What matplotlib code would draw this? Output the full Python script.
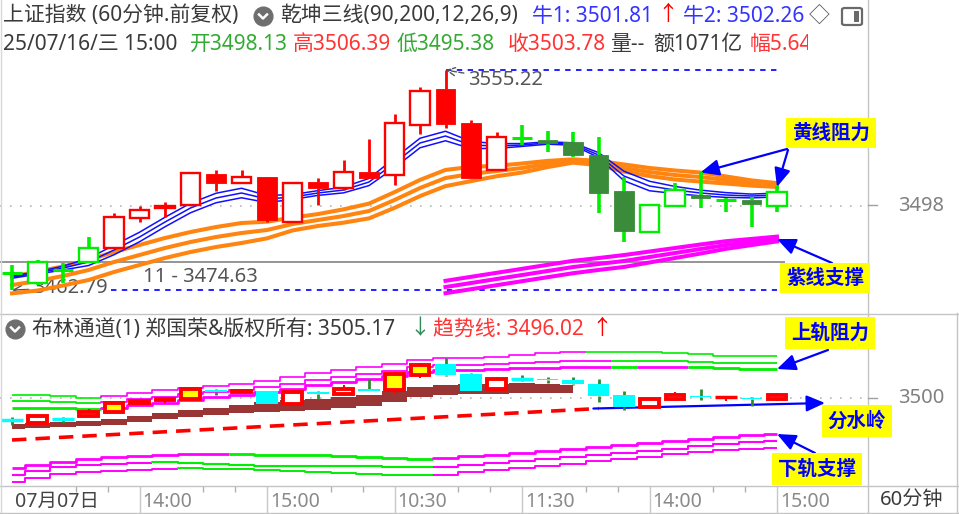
import numpy as np
import matplotlib
matplotlib.use("Agg")
import matplotlib.pyplot as plt
import matplotlib.transforms as mtransforms
from matplotlib.patches import Rectangle, FancyBboxPatch
from matplotlib.lines import Line2D
from matplotlib.transforms import Bbox

plt.rcParams['font.family'] = ['Noto Sans', 'Noto Sans CJK SC', 'DejaVu Sans']

W, H, DPI = 959, 514, 100

# ---------------- data (60-minute bars) ----------------
opens = [3470.35, 3465.73, 3471.60, 3474.55, 3480.40, 3493.00, 3497.24, 3498.50,
         3511.50, 3507.75, 3510.30, 3491.40, 3508.20, 3505.60, 3512.40, 3511.10,
         3532.10, 3547.20, 3533.00, 3513.20, 3526.80, 3525.80, 3525.00, 3519.50,
         3504.40, 3487.20, 3498.10, 3502.70, 3500.60, 3500.60, 3498.13]
highs = [3473.29, 3475.40, 3474.10, 3485.10, 3495.10, 3498.10, 3499.80, 3511.95,
         3513.20, 3513.20, 3510.30, 3507.75, 3509.85, 3517.40, 3526.20, 3536.70,
         3548.10, 3555.22, 3534.20, 3529.20, 3532.10, 3529.60, 3529.20, 3527.10,
         3510.30, 3498.50, 3507.75, 3512.40, 3501.40, 3501.90, 3506.39]
lows = [3462.79, 3464.90, 3465.70, 3474.55, 3480.40, 3491.40, 3493.50, 3498.50,
        3504.40, 3507.75, 3491.40, 3491.40, 3498.50, 3504.80, 3509.85, 3506.90,
        3528.30, 3530.90, 3509.85, 3513.20, 3523.70, 3520.80, 3518.70, 3495.10,
        3483.00, 3487.20, 3498.10, 3497.20, 3495.60, 3489.30, 3495.38]
closes = [3469.93, 3474.55, 3471.20, 3480.40, 3493.46, 3496.40, 3498.08, 3511.95,
          3507.75, 3510.30, 3492.20, 3507.75, 3505.60, 3512.40, 3509.85, 3533.00,
          3546.40, 3532.50, 3509.85, 3527.10, 3526.50, 3524.60, 3519.50, 3503.50,
          3487.60, 3498.50, 3504.80, 3501.40, 3501.00, 3498.90, 3503.78]
upper_group = "ggggrrrrrrrrrrrrrrrrggggggggggg"   # colour family of each bar (upper panel)
lower_fill = "-w-wyyyy-y-w-w-yy--w-----ww-w-w"    # fill of rising bars (lower panel)

# 乾坤三线 - blue line (centre and spread)
blue_mid = [3468.25, 3469.93, 3472.03, 3474.56, 3479.60, 3485.06, 3491.36, 3497.25,
            3501.45, 3503.55, 3501.03, 3501.87, 3503.55, 3504.81, 3508.17, 3516.16,
            3524.56, 3527.50, 3523.72, 3523.30, 3523.72, 3524.56, 3524.14, 3519.52,
            3510.69, 3506.49, 3504.81, 3503.55, 3502.71, 3502.29, 3502.71]
blue_gap = [0.5, 0.5, 0.8, 1.5, 2, 2, 2, 2, 2, 2, 1.5, 1, 1, 1.2, 1.5, 2, 2, 2, 1.5,
            1, 0.6, 0.5, 0.5, 1, 2, 2, 1.5, 1.2, 1, 0.8, 0.8]
# yellow (orange) line
orange_mid = [3464.89, 3466.57, 3468.67, 3471.19, 3474.56, 3477.50, 3480.44, 3482.96,
              3485.06, 3486.74, 3488.00, 3490.52, 3492.20, 3493.88, 3495.99, 3500.61,
              3505.65, 3509.85, 3511.53, 3512.79, 3514.05, 3515.74, 3517.00, 3516.16,
              3514.05, 3512.37, 3511.11, 3510.27, 3509.01, 3507.75, 3506.91]
orange_gap = [3.5, 4, 4, 4.2, 4.2, 4.2, 4.2, 4.2, 4.2, 4.2, 3.5, 2.7, 2.5, 2.8, 3.1,
              3.3, 3.4, 3.4, 3.0, 2.2, 1.9, 1.3, 0.7, 0.9, 1.5, 1.7, 1.9, 1.9, 1.5,
              1.1, 0.8]
# purple (magenta) line, visible from bar 17
magenta_start = 17
magenta_mid = [3464.05, 3465.73, 3467.41, 3469.09, 3470.77, 3472.45, 3473.72, 3474.98,
               3476.66, 3478.34, 3480.02, 3481.70, 3482.96, 3484.22]
magenta_gap = [2.6, 2.6, 2.6, 2.6, 2.6, 2.6, 2.5, 2.5, 2.3, 2.1, 1.9, 1.6, 1.3, 1.0]

high_mark = 3555.22
low_mark = 3462.79
ref_level = 3474.63

# 布林通道 lower panel
bb_top = [3504.2, 3504.2, 3502.8, 3500.0, 3502.8, 3506.9, 3511.1, 3513.9, 3516.7, 3519.5,
          3523.6, 3529.2, 3534.7, 3538.9, 3543.1, 3547.2, 3552.8, 3555.6, 3555.6, 3557.0,
          3559.7, 3562.5, 3563.9, 3563.9, 3563.9, 3563.9, 3562.5, 3561.1, 3558.3, 3558.3, 3558.3]
bb_mid = [3495.8, 3495.8, 3494.4, 3493.1, 3494.4, 3498.6, 3501.4, 3505.6, 3508.3, 3511.1,
          3515.3, 3519.5, 3525.0, 3529.2, 3533.3, 3537.5, 3543.1, 3545.8, 3545.8, 3547.2,
          3548.6, 3550.0, 3551.4, 3551.4, 3551.4, 3551.4, 3551.4, 3550.0, 3548.6, 3548.6, 3548.6]
bb_bot = [3486.1, 3486.1, 3486.1, 3484.7, 3486.1, 3490.3, 3493.1, 3497.2, 3501.4, 3504.2,
          3508.3, 3512.5, 3518.1, 3522.2, 3526.4, 3530.6, 3536.1, 3538.9, 3538.9, 3540.3,
          3541.7, 3541.7, 3543.1, 3543.1, 3543.1, 3543.1, 3543.1, 3543.1, 3541.7, 3540.3, 3540.3]
lb_top = [3402.8, 3406.9, 3411.1, 3415.3, 3418.1, 3419.4, 3420.8, 3422.2, 3422.2, 3422.2,
          3420.8, 3420.8, 3420.8, 3419.4, 3418.1, 3416.7, 3415.3, 3416.7, 3419.4, 3420.8,
          3423.6, 3426.4, 3429.2, 3431.9, 3434.7, 3437.5, 3440.3, 3443.1, 3445.8, 3448.6, 3450.0]
lb_mid = [3393.0, 3398.6, 3404.2, 3406.9, 3408.3, 3409.7, 3411.1, 3409.7, 3408.3, 3406.9,
          3405.5, 3405.5, 3405.5, 3405.5, 3405.5, 3404.2, 3404.2, 3404.2, 3406.9, 3409.7,
          3412.5, 3415.3, 3418.1, 3420.8, 3423.6, 3426.4, 3429.2, 3433.3, 3436.1, 3438.9, 3440.3]
lb_bot = [3383.3, 3388.9, 3394.4, 3397.2, 3398.6, 3400.0, 3401.4, 3402.8, 3401.4, 3401.4,
          3400.0, 3398.6, 3397.2, 3395.8, 3394.4, 3393.0, 3393.0, 3393.0, 3397.2, 3400.0,
          3402.8, 3405.5, 3408.3, 3412.5, 3415.3, 3418.1, 3422.2, 3425.0, 3427.8, 3429.2, 3430.5]
bb_top_col = "gggg" + "m" * 19 + "g" * 8
bb_mid_col = "gggg" + "m" * 20 + "g" * 7
bb_bot_col = "gggg" + "m" * 20 + "g" + "mm" + "gggg"
lb_top_col = "m" * 9 + "g" * 8 + "m" * 14
lb_mid_col = "m" * 6 + "g" * 11 + "m" * 14
lb_bot_col = "m" * 7 + "g" * 10 + "m" * 14
brown_top = [3463.9, 3465.3, 3466.7, 3468.1, 3470.8, 3475.0, 3479.2, 3482.9, 3486.7, 3490.3,
             3494.5, 3497.2, 3498.6, 3501.4, 3504.2, 3509.7, 3515.3, 3518.1, 3519.5, 3519.5,
             3520.9, 3519.5, 3518.1]
brown_bot = [3456.9, 3458.3, 3459.7, 3461.1, 3462.5, 3466.7, 3470.8, 3474.0, 3476.4, 3479.2,
             3480.5, 3481.9, 3483.3, 3486.1, 3488.9, 3494.4, 3501.4, 3504.2, 3505.5, 3505.5,
             3506.9, 3506.9, 3506.9]
trend_bars = [0, 23]
trend_vals = [3441.7, 3485.4]

tick_idx = [0, 5, 10, 15, 20, 25, 30]
tick_labels = ["07月07日", "14:00", "15:00", "10:30", "11:30", "14:00", "15:00"]

# ---------------- colours ----------------
RED = '#FF0000'
LIME = '#00EE00'
DKGREEN = '#3A8C3A'
BLUE = '#1010FF'
ORANGE = '#FF8410'
MAGENTA = '#FF00FF'
CYAN = '#00FFFF'
YELLOW = '#FFFF00'
BROWN = '#993535'
COLS = {'g': '#00EE00', 'm': '#FF00FF'}
TXT = '#3a3a3a'


def F(xp, yp):
    return (xp / W, 1 - yp / H)


fig = plt.figure(figsize=(W / DPI, H / DPI), dpi=DPI)
fig.patch.set_facecolor('white')
axU = fig.add_axes([0, 1 - 313 / H, 868 / W, 313 / H])
axL = fig.add_axes([0, 1 - 486 / H, 868 / W, 172 / H])
XLIM = (-12 / 25.5, (868 - 12) / 25.5)
for ax in (axU, axL):
    ax.set_xlim(*XLIM)
    for s in ax.spines.values():
        s.set_visible(False)
    ax.set_yticks([])
    ax.patch.set_alpha(0)
axU.set_xticks([])
axU.set_ylim(3453.13, 3584.65)
axL.set_ylim(3377.8, 3616.7)

n = len(opens)
x = np.arange(n)

# ---------------- upper panel ----------------
axU.axhline(3498, color='#b8b8b8', lw=1.2, ls=(0, (1, 5)), zorder=1)
axU.hlines(ref_level, XLIM[0], 30.3, color='#8c8c8c', lw=1.3, zorder=1)
axU.hlines(high_mark, 17, 30, color=BLUE, lw=1.3, ls=(0, (3, 3)), zorder=1)
axU.hlines(low_mark, 3.9, 30, color=BLUE, lw=1.3, ls=(0, (3, 3)), zorder=1)

om, og = np.array(orange_mid), np.array(orange_gap)
for k in (-1, 0, 1):
    axU.plot(x, om + k * og, color=ORANGE, lw=2.9, zorder=2, solid_joinstyle='miter')
mx = np.arange(magenta_start, magenta_start + len(magenta_mid))
mm, mg = np.array(magenta_mid), np.array(magenta_gap)
for k in (-1, 0, 1):
    axU.plot(mx, mm + k * mg, color=MAGENTA, lw=2.9, zorder=2)
bm, bg = np.array(blue_mid), np.array(blue_gap)
for k in (-1, 0, 1):
    axU.plot(x, bm + k * bg, color=BLUE, lw=1.1, zorder=3)

cw = 0.78
for i in x:
    o, h, l, c = opens[i], highs[i], lows[i], closes[i]
    grp = upper_group[i]
    bright = RED if grp == 'r' else LIME
    lo, hi = min(o, c), max(o, c)
    wlw = 2.0 if grp == 'r' else 2.6
    axU.vlines(i, l, lo, color=bright, lw=wlw, zorder=4)
    axU.vlines(i, hi, h, color=bright, lw=wlw, zorder=4)
    if hi - lo < 0.5:
        axU.hlines((o + c) / 2, i - cw / 2, i + cw / 2, color=bright, lw=2.2, zorder=5)
    elif c > o:
        axU.add_patch(Rectangle((i - cw / 2, lo), cw, hi - lo, fc='white', ec=bright,
                                lw=1.7, zorder=5))
    else:
        fc = RED if grp == 'r' else DKGREEN
        axU.add_patch(Rectangle((i - cw / 2, lo), cw, hi - lo, fc=fc, ec=fc, lw=0.6, zorder=5))

axU.annotate('3555.22', xy=(17, high_mark), xycoords='data', xytext=F(468, 80),
             textcoords='figure fraction', va='center', ha='left', fontsize=14.5, color='#555555',
             arrowprops=dict(arrowstyle='->', color='#555555', lw=1.0, ls='--',
                             shrinkA=1, shrinkB=0))
axU.annotate('3462.79', xy=(0, low_mark), xycoords='data', xytext=F(33, 288),
             textcoords='figure fraction', va='center', ha='left', fontsize=14.5, color='#555555',
             arrowprops=dict(arrowstyle='->', color='#555555', lw=1.0, shrinkA=1, shrinkB=0),
             zorder=1)
fig.text(*F(143, 277), '11 - %.2f' % ref_level, fontsize=14.5, color='#555555', va='center',
         ha='left')
blend = mtransforms.blended_transform_factory(axU.transAxes, axU.transData)
axU.text(898 / 868, 3498, '3498', transform=blend, fontsize=14.5, color='#808080',
         va='center', ha='left', clip_on=False)

# ---------------- lower panel ----------------
def step_runs(ax, vals, cols, lw, z=2):
    vals = list(vals)
    m = len(vals)
    runs = []
    a = 0
    for i in range(1, m + 1):
        if i == m or cols[i] != cols[a]:
            runs.append((a, i - 1, cols[a]))
            a = i
    for a, b, col in runs:
        xs, ys = [], []
        if a > 0:
            xs.append(a - 0.5)
            ys.append(vals[a - 1])
        for i in range(a, b + 1):
            left = i - 0.5 if i > 0 else i
            right = i + 0.5 if i < m - 1 else i
            xs += [left, right]
            ys += [vals[i], vals[i]]
        ax.plot(xs, ys, color=COLS[col], lw=lw, zorder=z, solid_capstyle='butt')


axL.axhline(3500, color='#b8b8b8', lw=1.2, ls=(0, (1, 5)), zorder=1)
step_runs(axL, bb_top, bb_top_col, 1.2)
step_runs(axL, bb_mid, bb_mid_col, 1.3)
step_runs(axL, bb_bot, bb_bot_col, 2.0)
step_runs(axL, lb_top, lb_top_col, 2.0)
step_runs(axL, lb_mid, lb_mid_col, 1.5)
step_runs(axL, lb_bot, lb_bot_col, 1.4)

bx = np.arange(len(brown_top))
axL.fill_between(bx, brown_bot, brown_top, step='mid', color=BROWN, lw=0, zorder=2)
axL.plot(trend_bars, trend_vals, color=RED, lw=2.6, ls=(0, (4, 2.5)), zorder=3)

for i in x:
    o, h, l, c = opens[i], highs[i], lows[i], closes[i]
    lo, hi = min(o, c), max(o, c)
    up = c > o
    if up:
        axL.vlines(i, hi, h, color=RED, lw=1.5, zorder=4)
        axL.vlines(i, l, lo, color=RED, lw=1.5, zorder=4)
    else:
        axL.vlines(i, hi, h, color='#2E8B2E', lw=2, zorder=4)
        axL.vlines(i, l, lo, color='#2E8B2E', lw=2, zorder=4)
    if hi - lo < 0.5:
        axL.hlines((o + c) / 2, i - 0.42, i + 0.42, color=RED if up else CYAN, lw=2.5, zorder=5)
    elif up:
        fc = YELLOW if lower_fill[i] == 'y' else 'white'
        axL.add_patch(Rectangle((i - 0.36, lo), 0.72, hi - lo, fc=fc, ec=RED, lw=2.8,
                                joinstyle='miter', zorder=5))
    else:
        axL.add_patch(Rectangle((i - 0.43, lo), 0.86, hi - lo, fc=CYAN, ec='none', zorder=5))

blendL = mtransforms.blended_transform_factory(axL.transAxes, axL.transData)
axL.text(898 / 868, 3500, '3500', transform=blendL, fontsize=14.5, color='#808080',
         va='center', ha='left', clip_on=False)

axL.set_xticks(tick_idx)
axL.set_xticklabels(tick_labels, fontsize=14, color='#8a8a8a', ha='left')
axL.tick_params(axis='x', length=0, pad=4)
off = mtransforms.ScaledTranslation(3 / 100, 0, fig.dpi_scale_trans)
for k, lab in enumerate(axL.get_xticklabels()):
    lab.set_transform(lab.get_transform() + off)
    if k == 0:
        lab.set_color('#444444')
bt = mtransforms.blended_transform_factory(axL.transData, axL.transAxes)
axL.vlines(tick_idx[1:], -28 / 172, 0, transform=bt, color='#c8c8c8', lw=1, clip_on=False)
minor = [t + f for t in tick_idx[:-1] for f in (2.5, 3.75)]
axL.vlines(minor, -6 / 172, 0, transform=bt, color='#b0b0b0', lw=1, clip_on=False)

# ---------------- frame lines ----------------
def fline(x0, y0, x1, y1, color='#c4c4c4', lw=1.0):
    fig.add_artist(Line2D([x0 / W, x1 / W], [1 - y0 / H, 1 - y1 / H], color=color, lw=lw,
                          transform=fig.transFigure))


fline(868, 0, 868, 514)
fline(0, 313.5, 959, 313.5)
fline(0, 486, 959, 486)
fline(956.5, 313, 956.5, 514)
fline(1, 0, 1, 514, color='#d8d8d8')
fline(0, 512.5, 959, 512.5)
fline(868, 205, 877, 205, color='#a0a0a0')
fline(868, 398, 877, 398, color='#a0a0a0')

# ---------------- header texts ----------------
FS = 15


def ftext(xp, yp, s, color=TXT, size=FS, **kw):
    return fig.text(xp / W, 1 - yp / H, s, color=color, fontsize=size, va='center', ha='left',
                    **kw)


def icon(xp, yp):
    fig.add_artist(Line2D([xp / W], [1 - yp / H], marker='o', ms=13.5, color='#6e6e6e',
                          transform=fig.transFigure))
    fig.add_artist(Line2D([(xp - 4) / W, xp / W, (xp + 4) / W],
                          [1 - (yp - 1.5) / H, 1 - (yp + 2.5) / H, 1 - (yp - 1.5) / H],
                          color='white', lw=1.8, transform=fig.transFigure))


ftext(3, 16, "上证指数 (60分钟.前复权)")
icon(263, 16)
ftext(280, 16, "乾坤三线(90,200,12,26,9)")
ftext(532, 16, "牛1: 3501.81", color='#3333FF')
ftext(657, 15, "↑", color=RED)
ftext(683, 16, "牛2: 3502.26", color='#3333FF')
ftext(809, 16, "◇", color='#555555')
fig.add_artist(FancyBboxPatch(F(842, 25), 20 / W, 17 / H, boxstyle='round,pad=0,rounding_size=0.003',
                              ec='#6a6a6a', fc='white', lw=1.6, transform=fig.transFigure))
fig.add_artist(Rectangle(F(854, 22), 5 / W, 11 / H, fc='#6a6a6a', ec='none',
                         transform=fig.transFigure))

ftext(3, 44, "25/07/16/三 15:00")
ftext(190, 44, "开3498.13", color='#33AA33')
ftext(293, 44, "高3506.39", color='#FF3333')
ftext(397, 44, "低3495.38", color='#33AA33')
ftext(508, 44, "收3503.78", color='#FF3333')
ftext(610, 44, "量--")
ftext(653, 44, "额1071亿")
t = ftext(750, 44, "幅5.64%", color='#FF3333')
t.set_clip_box(Bbox([[0, 0], [808, H]]))
t.set_clip_on(True)

icon(15, 329)
ftext(32, 329, "布林通道(1) 郑国荣&版权所有: 3505.17")
ftext(409, 329, "↓", color='#2E8B57')
ftext(433, 329, "趋势线: 3496.02", color='#FF3333')
ftext(591, 328, "↑", color=RED)
ftext(880, 500, "60分钟", size=14.5)

# ---------------- annotations ----------------
def box(xp, yp, s):
    fig.text(xp / W, 1 - yp / H, s, color='#0000FF', fontsize=14, fontweight='bold',
             family=['Noto Sans CJK SC', 'DejaVu Sans'],
             ha='center', va='center', zorder=10,
             bbox=dict(boxstyle='square,pad=0.3', fc=YELLOW, ec='none'))


AP = dict(arrowstyle='-|>,head_length=0.8,head_width=0.35', color='#0000FF', lw=1.6,
          mutation_scale=14, shrinkA=0, shrinkB=0)
box(831, 133, "黄线阻力")
box(825, 278, "紫线支撑")
box(830, 333, "上轨阻力")
box(857, 421, "分水岭")
box(817, 469, "下轨支撑")

axU.annotate('', xy=(27, orange_mid[27] + orange_gap[27]), xytext=F(787, 149),
             textcoords='figure fraction', arrowprops=AP)
axU.annotate('', xy=(30, orange_mid[30] - orange_gap[30]), xytext=F(788, 150),
             textcoords='figure fraction', arrowprops=AP)
axU.annotate('', xy=(30, magenta_mid[-1]), xytext=F(832, 263),
             textcoords='figure fraction', arrowprops=AP)
axL.annotate('', xy=(30, bb_bot[30]), xytext=F(828, 350),
             textcoords='figure fraction', arrowprops=AP)
axL.annotate('', xy=(30, lb_top[30]), xytext=F(815, 453),
             textcoords='figure fraction', arrowprops=AP)
axL.annotate('', xy=F(825, 403), xycoords='figure fraction',
             xytext=(22.8, trend_vals[1]), textcoords='data', arrowprops=AP)

fig.savefig('out.png', dpi=DPI, facecolor='white')
